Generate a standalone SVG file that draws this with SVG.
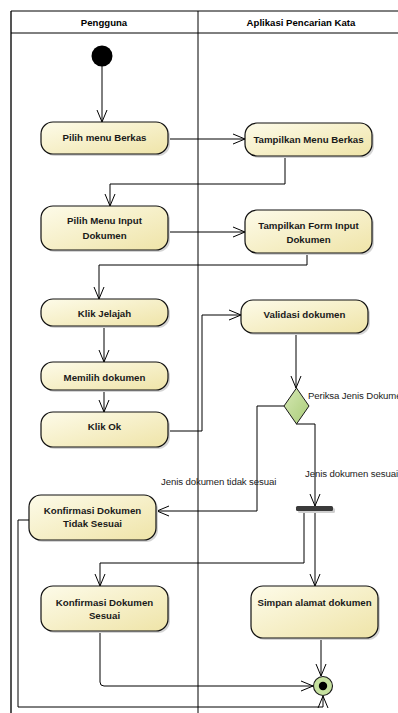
<svg xmlns="http://www.w3.org/2000/svg" width="398" height="713" viewBox="0 0 398 713">
  <defs>
    <linearGradient id="actFill" x1="0" y1="0" x2="1" y2="1">
      <stop offset="0" stop-color="#fdfbe9"/>
      <stop offset="1" stop-color="#efe4a8"/>
    </linearGradient>
    <linearGradient id="decFill" x1="0" y1="0" x2="1" y2="1">
      <stop offset="0" stop-color="#d6e8b4"/>
      <stop offset="1" stop-color="#a9cc78"/>
    </linearGradient>
    <marker id="arr" viewBox="0 0 14 12" refX="13" refY="6" markerWidth="14" markerHeight="12" orient="auto" markerUnits="userSpaceOnUse">
      <path d="M1,1 L13,6 L1,11" fill="none" stroke="#000" stroke-width="1"/>
    </marker>
    <style>
      .lane { fill: none; stroke: #000; stroke-width: 1; }
      .head { font-family: "Liberation Sans", Arial, sans-serif; font-size: 9.6px; font-weight: bold; fill: #000; text-anchor: middle; }
      .act rect.box { fill: url(#actFill); stroke: #111; stroke-width: 1.2; }
      .act rect.shd { fill: #d4d4d4; stroke: none; }
      .act text { font-family: "Liberation Sans", Arial, sans-serif; font-size: 9.7px; font-weight: bold; fill: #1a1a1a; text-anchor: middle; }
      .lbl { font-family: "Liberation Sans", Arial, sans-serif; font-size: 9.6px; fill: #222; letter-spacing: -0.1px; }
      .edge { fill: none; stroke: #000; stroke-width: 1; marker-end: url(#arr); }
    </style>
  </defs>

  <rect width="398" height="713" fill="#fff"/>

  <!-- swimlanes -->
  <g id="lanes">
    <line x1="11" y1="11" x2="11" y2="713" stroke="#555" stroke-width="2"/>
    <line x1="11" y1="11" x2="398" y2="11" class="lane"/>
    <line x1="11" y1="33" x2="398" y2="33" class="lane"/>
    <line x1="198" y1="11" x2="198" y2="713" class="lane"/>
    <text class="head" x="104" y="25.5">Pengguna</text>
    <text class="head" x="301" y="25.5">Aplikasi Pencarian Kata</text>
  </g>

  <!-- connectors -->
  <g id="connectors">
    <path class="edge" d="M102,66 L102,122"/>
    <path class="edge" d="M168,139 L245,139"/>
    <path class="edge" d="M285,156 L285,184 L110,184 L110,206"/>
    <path class="edge" d="M168,232 L245,232"/>
    <path class="edge" d="M307,253 L307,265 L99,265 L99,299"/>
    <path class="edge" d="M104,326 L104,362"/>
    <path class="edge" d="M104,390 L104,412"/>
    <path class="edge" d="M168,431 L202,431 L202,315 L241,315"/>
    <path class="edge" d="M296,333 L296,388"/>
    <path class="edge" d="M284,406 L257,406 L257,511 L157,511"/>
    <path class="edge" d="M296,424 L315,424 L315,506"/>
    <path class="edge" d="M304,511 L304,563 L100,563 L100,586"/>
    <path class="edge" d="M315,511 L315,586"/>
    <path class="edge" d="M100,631 L100,682 Q100,686 104,686 L313,686"/>
    <path class="edge" d="M321,638 L321,676"/>
    <path class="edge" d="M30,520 L18,520 L18,707 L323,707 L323,696"/>
    <text class="lbl" x="308" y="398.5">Periksa Jenis Dokumen</text>
    <text class="lbl" x="305" y="476.5">Jenis dokumen sesuai</text>
    <text class="lbl" x="161" y="484.5">Jenis dokumen tidak sesuai</text>
  </g>

  <!-- initial node -->
  <g id="start">
    <circle cx="102" cy="56" r="10.5" fill="#000"/>
  </g>

  <g id="pilihMenuBerkas" class="act">
    <rect class="shd" x="43" y="124" width="127" height="32" rx="12"/>
    <rect class="box" x="41" y="122" width="127" height="32" rx="12"/>
    <text x="104.5" y="140.5">Pilih menu Berkas</text>
  </g>

  <g id="tampilkanMenuBerkas" class="act">
    <rect class="shd" x="247" y="125" width="127" height="33" rx="12"/>
    <rect class="box" x="245" y="123" width="127" height="33" rx="12"/>
    <text x="308.5" y="142.5">Tampilkan Menu Berkas</text>
  </g>

  <g id="pilihMenuInput" class="act">
    <rect class="shd" x="43" y="208" width="127" height="44" rx="12"/>
    <rect class="box" x="41" y="206" width="127" height="44" rx="12"/>
    <text x="104.5" y="223.5">Pilih Menu Input</text>
    <text x="104.5" y="238.5">Dokumen</text>
  </g>

  <g id="tampilkanFormInput" class="act">
    <rect class="shd" x="247" y="212" width="127" height="43" rx="12"/>
    <rect class="box" x="245" y="210" width="127" height="43" rx="12"/>
    <text x="308.5" y="229">Tampilkan Form Input</text>
    <text x="308.5" y="242.5">Dokumen</text>
  </g>

  <g id="klikJelajah" class="act">
    <rect class="shd" x="43" y="301" width="127" height="27" rx="12"/>
    <rect class="box" x="41" y="299" width="127" height="27" rx="12"/>
    <text x="104.5" y="317">Klik Jelajah</text>
  </g>

  <g id="memilihDokumen" class="act">
    <rect class="shd" x="43" y="364" width="127" height="28" rx="12"/>
    <rect class="box" x="41" y="362" width="127" height="28" rx="12"/>
    <text x="104.5" y="380.5">Memilih dokumen</text>
  </g>

  <g id="klikOk" class="act">
    <rect class="shd" x="43" y="414" width="127" height="35" rx="12"/>
    <rect class="box" x="41" y="412" width="127" height="35" rx="12"/>
    <text x="104.5" y="429.5">Klik Ok</text>
  </g>

  <g id="validasiDokumen" class="act">
    <rect class="shd" x="243" y="302" width="127" height="33" rx="12"/>
    <rect class="box" x="241" y="300" width="127" height="33" rx="12"/>
    <text x="304.5" y="317.5">Validasi dokumen</text>
  </g>

  <!-- decision -->
  <g id="periksaJenis">
    <polygon points="296.5,388 309,406 296.5,424 284,406" fill="url(#decFill)" stroke="#1a1a1a" stroke-width="1"/>
  </g>

  <!-- fork -->
  <g id="fork">
    <rect x="298" y="508" width="37" height="5" rx="1.5" fill="#cfcfcf"/>
    <rect x="296" y="506" width="37" height="5" rx="1.5" fill="#3a3a3a"/>
  </g>

  <g id="konfirmasiTidakSesuai" class="act">
    <rect class="shd" x="31" y="497" width="127" height="45" rx="12"/>
    <rect class="box" x="29" y="495" width="127" height="45" rx="12"/>
    <text x="92.5" y="513.5">Konfirmasi Dokumen</text>
    <text x="92.5" y="526.5">Tidak Sesuai</text>
  </g>

  <g id="konfirmasiSesuai" class="act">
    <rect class="shd" x="43" y="588" width="127" height="45" rx="12"/>
    <rect class="box" x="41" y="586" width="127" height="45" rx="12"/>
    <text x="104.5" y="605.5">Konfirmasi Dokumen</text>
    <text x="104.5" y="618.5">Sesuai</text>
  </g>

  <g id="simpanAlamat" class="act">
    <rect class="shd" x="253" y="588" width="127" height="52" rx="12"/>
    <rect class="box" x="251" y="586" width="127" height="52" rx="12"/>
    <text x="314.5" y="605.5">Simpan alamat dokumen</text>
  </g>

  <!-- final node -->
  <g id="end">
    <circle cx="323" cy="686" r="9.5" fill="#c6e19f" stroke="#1a1a1a" stroke-width="1.1"/>
    <circle cx="323" cy="686" r="4.2" fill="#000"/>
  </g>
</svg>
